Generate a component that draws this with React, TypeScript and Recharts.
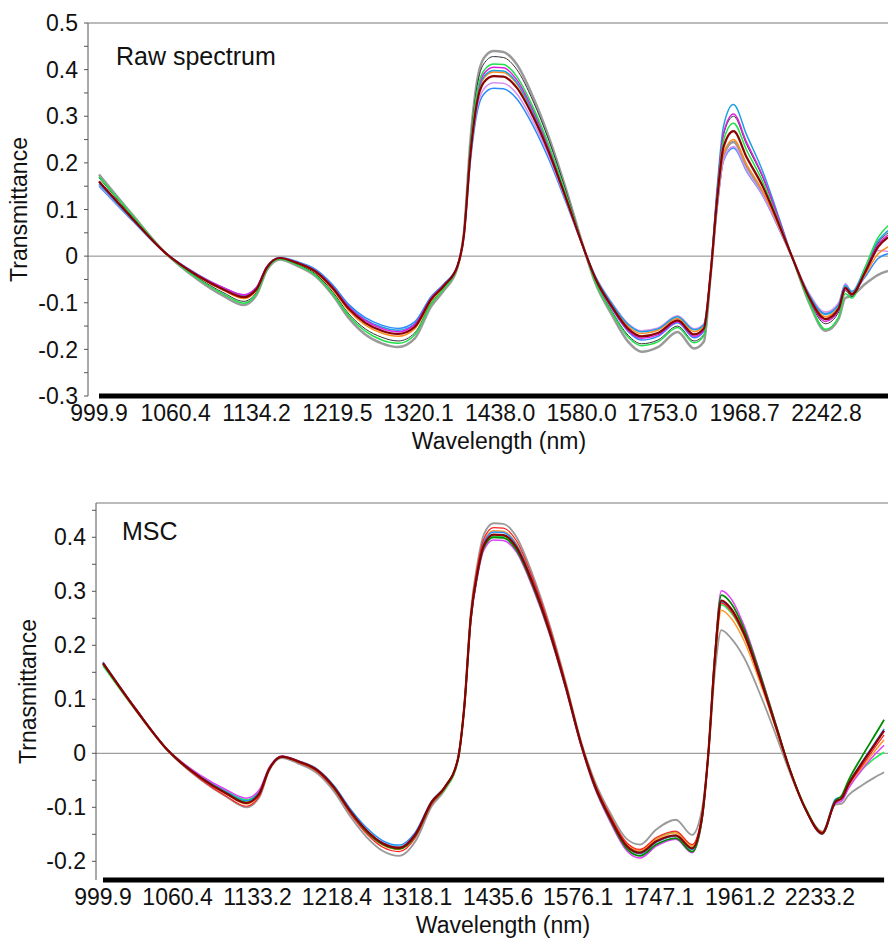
import { LineChart, Line, XAxis, YAxis, ReferenceLine } from "recharts";

// channel index along the (non-linear) wavelength axis
const CHANNELS = [0, 10, 20, 30, 38, 44, 48, 51, 55, 60, 66, 71, 76, 81, 86, 91, 96, 101, 105, 109, 111, 113, 115, 117, 120, 123, 127, 132, 137, 142, 147, 151, 156, 161, 165, 170, 176, 181, 184, 186, 188, 190, 193, 197, 202, 207, 211, 216, 221, 225, 227, 229, 233, 237, 240];

const RAW_TICK_CH = [0, 23.3, 47.9, 72.5, 97.2, 122, 146.8, 171.4, 196.4, 221.3];
const RAW_TICK_LABELS = ["999.9", "1060.4", "1134.2", "1219.5", "1320.1", "1438.0", "1580.0", "1753.0", "1968.7", "2242.8"];
const MSC_TICK_CH = [0, 22.9, 47.5, 71.9, 96.5, 121.4, 146, 170.9, 195.8, 220.3];
const MSC_TICK_LABELS = ["999.9", "1060.4", "1133.2", "1218.4", "1318.1", "1435.6", "1576.1", "1747.1", "1961.2", "2233.2"];

const RAW_Y_TICKS = [-0.3, -0.25, -0.2, -0.15, -0.1, -0.05, 0, 0.05, 0.1, 0.15, 0.2, 0.25, 0.3, 0.35, 0.4, 0.45, 0.5];
const MSC_Y_TICKS = [-0.2, -0.15, -0.1, -0.05, 0, 0.05, 0.1, 0.15, 0.2, 0.25, 0.3, 0.35, 0.4, 0.45];

// raw spectra
const RAW_GRAY = [0.175, 0.090, 0.008, -0.050, -0.086, -0.105, -0.082, -0.031, -0.007, -0.020, -0.044, -0.083, -0.133, -0.168, -0.187, -0.195, -0.177, -0.108, -0.073, -0.025, 0.050, 0.250, 0.375, 0.424, 0.440, 0.438, 0.412, 0.342, 0.252, 0.145, 0.028, -0.058, -0.126, -0.184, -0.205, -0.195, -0.163, -0.198, -0.183, -0.045, 0.110, 0.217, 0.245, 0.192, 0.134, 0.059, -0.005, -0.100, -0.160, -0.134, -0.090, -0.085, -0.060, -0.040, -0.032];
const RAW_BLACK = [0.168, 0.086, 0.008, -0.046, -0.079, -0.097, -0.077, -0.028, -0.005, -0.017, -0.039, -0.076, -0.124, -0.156, -0.174, -0.182, -0.165, -0.101, -0.068, -0.023, 0.048, 0.242, 0.364, 0.412, 0.428, 0.426, 0.401, 0.333, 0.245, 0.140, 0.027, -0.054, -0.118, -0.170, -0.188, -0.180, -0.150, -0.182, -0.168, -0.042, 0.134, 0.261, 0.300, 0.239, 0.167, 0.073, -0.005, -0.094, -0.145, -0.120, -0.074, -0.087, -0.032, 0.028, 0.050];
const RAW_LIME = [0.170, 0.088, 0.008, -0.048, -0.082, -0.101, -0.079, -0.029, -0.006, -0.018, -0.042, -0.080, -0.128, -0.161, -0.180, -0.187, -0.169, -0.103, -0.069, -0.024, 0.048, 0.235, 0.352, 0.397, 0.412, 0.411, 0.386, 0.320, 0.235, 0.134, 0.026, -0.056, -0.121, -0.174, -0.192, -0.184, -0.153, -0.186, -0.171, -0.043, 0.128, 0.249, 0.285, 0.227, 0.158, 0.069, -0.005, -0.098, -0.157, -0.130, -0.080, -0.090, -0.025, 0.040, 0.065];
const RAW_MAGENTA = [0.160, 0.082, 0.008, -0.040, -0.068, -0.083, -0.066, -0.023, -0.004, -0.013, -0.032, -0.065, -0.109, -0.138, -0.155, -0.162, -0.147, -0.090, -0.061, -0.022, 0.047, 0.230, 0.345, 0.390, 0.405, 0.404, 0.379, 0.314, 0.230, 0.131, 0.026, -0.050, -0.111, -0.160, -0.176, -0.169, -0.141, -0.172, -0.159, -0.040, 0.135, 0.265, 0.305, 0.244, 0.170, 0.075, -0.005, -0.091, -0.140, -0.116, -0.070, -0.082, -0.032, 0.025, 0.045];
const RAW_CYAN = [0.155, 0.079, 0.008, -0.040, -0.069, -0.084, -0.067, -0.024, -0.004, -0.012, -0.031, -0.063, -0.107, -0.136, -0.152, -0.159, -0.145, -0.089, -0.060, -0.021, 0.047, 0.227, 0.340, 0.384, 0.398, 0.397, 0.373, 0.309, 0.227, 0.129, 0.026, -0.044, -0.102, -0.147, -0.162, -0.156, -0.130, -0.158, -0.147, -0.038, 0.145, 0.280, 0.325, 0.260, 0.180, 0.079, -0.005, -0.083, -0.125, -0.104, -0.063, -0.076, -0.025, 0.033, 0.055];
const RAW_ORANGE = [0.160, 0.082, 0.008, -0.043, -0.074, -0.091, -0.072, -0.026, -0.004, -0.015, -0.036, -0.071, -0.117, -0.148, -0.165, -0.172, -0.156, -0.096, -0.065, -0.022, 0.046, 0.225, 0.337, 0.381, 0.395, 0.394, 0.370, 0.307, 0.225, 0.128, 0.025, -0.045, -0.104, -0.151, -0.166, -0.159, -0.133, -0.162, -0.150, -0.040, 0.112, 0.221, 0.250, 0.197, 0.138, 0.061, -0.005, -0.085, -0.130, -0.108, -0.066, -0.080, -0.040, 0.005, 0.020];
const RAW_VIOLET = [0.152, 0.078, 0.008, -0.040, -0.069, -0.085, -0.067, -0.024, -0.004, -0.013, -0.032, -0.065, -0.110, -0.139, -0.156, -0.163, -0.148, -0.091, -0.062, -0.022, 0.044, 0.212, 0.318, 0.358, 0.372, 0.371, 0.349, 0.289, 0.212, 0.120, 0.024, -0.043, -0.100, -0.145, -0.160, -0.154, -0.128, -0.156, -0.145, -0.040, 0.105, 0.208, 0.235, 0.184, 0.129, 0.057, -0.005, -0.080, -0.120, -0.100, -0.060, -0.076, -0.040, 0.012, 0.010];
const RAW_BLUE = [0.150, 0.077, 0.008, -0.039, -0.068, -0.083, -0.066, -0.023, -0.003, -0.011, -0.029, -0.061, -0.104, -0.132, -0.148, -0.155, -0.141, -0.087, -0.059, -0.021, 0.043, 0.205, 0.308, 0.347, 0.360, 0.359, 0.338, 0.280, 0.205, 0.116, 0.024, -0.050, -0.112, -0.162, -0.180, -0.172, -0.143, -0.175, -0.161, -0.040, 0.104, 0.205, 0.232, 0.182, 0.128, 0.056, -0.005, -0.082, -0.123, -0.102, -0.060, -0.077, -0.045, -0.005, 0.005];
const RAW_DARKRED = [0.160, 0.082, 0.008, -0.042, -0.072, -0.088, -0.070, -0.025, -0.004, -0.014, -0.034, -0.068, -0.113, -0.143, -0.160, -0.167, -0.152, -0.093, -0.063, -0.022, 0.045, 0.220, 0.330, 0.372, 0.386, 0.385, 0.362, 0.300, 0.220, 0.125, 0.025, -0.048, -0.108, -0.156, -0.172, -0.165, -0.138, -0.168, -0.155, -0.040, 0.120, 0.235, 0.268, 0.212, 0.148, 0.065, -0.005, -0.088, -0.135, -0.112, -0.068, -0.082, -0.035, 0.020, 0.040];

// MSC corrected spectra
const MSC_GRAY = [0.164, 0.080, 0.004, -0.049, -0.081, -0.100, -0.082, -0.033, -0.009, -0.019, -0.038, -0.071, -0.117, -0.155, -0.181, -0.190, -0.163, -0.098, -0.068, -0.014, 0.089, 0.262, 0.350, 0.405, 0.426, 0.425, 0.401, 0.331, 0.242, 0.136, 0.020, -0.050, -0.112, -0.159, -0.169, -0.141, -0.123, -0.151, -0.105, -0.003, 0.150, 0.228, 0.213, 0.177, 0.108, 0.030, -0.035, -0.105, -0.145, -0.095, -0.093, -0.078, -0.060, -0.045, -0.035];
const MSC_RED = [0.165, 0.080, 0.004, -0.048, -0.080, -0.098, -0.080, -0.032, -0.007, -0.017, -0.035, -0.067, -0.112, -0.149, -0.174, -0.182, -0.156, -0.094, -0.065, -0.012, 0.088, 0.258, 0.344, 0.397, 0.418, 0.417, 0.394, 0.325, 0.238, 0.133, 0.018, -0.054, -0.117, -0.166, -0.178, -0.156, -0.144, -0.169, -0.115, 0.000, 0.172, 0.278, 0.263, 0.218, 0.135, 0.043, -0.030, -0.104, -0.146, -0.090, -0.083, -0.060, -0.025, 0.009, 0.034];
const MSC_ORANGE = [0.167, 0.082, 0.005, -0.046, -0.076, -0.094, -0.076, -0.031, -0.006, -0.016, -0.033, -0.065, -0.109, -0.146, -0.170, -0.178, -0.153, -0.092, -0.064, -0.012, 0.087, 0.255, 0.339, 0.392, 0.412, 0.411, 0.388, 0.320, 0.234, 0.131, 0.017, -0.056, -0.119, -0.169, -0.180, -0.159, -0.147, -0.172, -0.117, 0.000, 0.167, 0.265, 0.250, 0.208, 0.129, 0.041, -0.031, -0.105, -0.147, -0.090, -0.085, -0.063, -0.028, 0.003, 0.025];
const MSC_BLUE = [0.169, 0.083, 0.005, -0.043, -0.072, -0.088, -0.072, -0.029, -0.006, -0.014, -0.030, -0.060, -0.103, -0.138, -0.162, -0.170, -0.146, -0.088, -0.062, -0.012, 0.086, 0.253, 0.337, 0.390, 0.410, 0.409, 0.386, 0.319, 0.233, 0.130, 0.016, -0.058, -0.123, -0.173, -0.186, -0.165, -0.153, -0.178, -0.122, 0.000, 0.173, 0.280, 0.265, 0.220, 0.136, 0.044, -0.030, -0.105, -0.148, -0.085, -0.080, -0.056, -0.018, 0.018, 0.045];
const MSC_DKGREEN = [0.166, 0.082, 0.005, -0.045, -0.074, -0.091, -0.074, -0.030, -0.006, -0.015, -0.032, -0.064, -0.108, -0.145, -0.169, -0.177, -0.152, -0.091, -0.063, -0.012, 0.084, 0.248, 0.330, 0.381, 0.400, 0.399, 0.377, 0.311, 0.227, 0.126, 0.014, -0.060, -0.125, -0.177, -0.190, -0.169, -0.157, -0.182, -0.124, 0.000, 0.180, 0.293, 0.278, 0.230, 0.144, 0.048, -0.029, -0.105, -0.149, -0.088, -0.078, -0.051, -0.008, 0.032, 0.062];
const MSC_MAGENTA = [0.167, 0.083, 0.006, -0.041, -0.068, -0.083, -0.068, -0.027, -0.005, -0.014, -0.031, -0.063, -0.107, -0.143, -0.166, -0.174, -0.149, -0.090, -0.063, -0.012, 0.083, 0.244, 0.325, 0.376, 0.395, 0.394, 0.373, 0.307, 0.224, 0.123, 0.011, -0.063, -0.129, -0.181, -0.194, -0.172, -0.159, -0.184, -0.125, 0.000, 0.183, 0.301, 0.286, 0.236, 0.147, 0.049, -0.029, -0.105, -0.150, -0.093, -0.088, -0.066, -0.032, -0.003, 0.015];
const MSC_LIME = [0.162, 0.080, 0.006, -0.042, -0.070, -0.086, -0.070, -0.028, -0.006, -0.016, -0.034, -0.065, -0.108, -0.143, -0.166, -0.173, -0.149, -0.092, -0.067, -0.016, 0.082, 0.246, 0.329, 0.381, 0.402, 0.402, 0.381, 0.314, 0.230, 0.128, 0.017, -0.055, -0.119, -0.169, -0.181, -0.158, -0.146, -0.172, -0.118, 0.000, 0.171, 0.275, 0.260, 0.217, 0.136, 0.045, -0.028, -0.102, -0.146, -0.090, -0.086, -0.064, -0.032, -0.010, 0.002];
const MSC_DARKRED = [0.167, 0.082, 0.005, -0.045, -0.075, -0.092, -0.075, -0.030, -0.006, -0.015, -0.032, -0.063, -0.107, -0.143, -0.167, -0.175, -0.150, -0.090, -0.063, -0.012, 0.085, 0.250, 0.333, 0.385, 0.405, 0.404, 0.382, 0.315, 0.230, 0.128, 0.015, -0.058, -0.122, -0.172, -0.184, -0.163, -0.152, -0.176, -0.120, 0.000, 0.175, 0.283, 0.268, 0.222, 0.138, 0.045, -0.030, -0.105, -0.148, -0.090, -0.083, -0.058, -0.020, 0.015, 0.042];

interface Series { key: string; values: number[]; color: string; width: number; }

const RAW_SERIES: Series[] = [
  { key: "gray", values: RAW_GRAY, color: "#9a9a9a", width: 2.5 },
  { key: "blue", values: RAW_BLUE, color: "#2b8cff", width: 1.5 },
  { key: "violet", values: RAW_VIOLET, color: "#d590f0", width: 1.5 },
  { key: "orange", values: RAW_ORANGE, color: "#ff8c1a", width: 1.5 },
  { key: "cyan", values: RAW_CYAN, color: "#1aa0e0", width: 1.5 },
  { key: "black", values: RAW_BLACK, color: "#333333", width: 1 },
  { key: "magenta", values: RAW_MAGENTA, color: "#e020e0", width: 1.5 },
  { key: "lime", values: RAW_LIME, color: "#1ee04a", width: 1.5 },
  { key: "darkred", values: RAW_DARKRED, color: "#8b0000", width: 2.2 },
];

const MSC_SERIES: Series[] = [
  { key: "gray", values: MSC_GRAY, color: "#9a9a9a", width: 1.8 },
  { key: "lime", values: MSC_LIME, color: "#22ee55", width: 1.5 },
  { key: "orange", values: MSC_ORANGE, color: "#ff9a2e", width: 1.5 },
  { key: "blue", values: MSC_BLUE, color: "#1e90ff", width: 1.5 },
  { key: "magenta", values: MSC_MAGENTA, color: "#e040fb", width: 1.5 },
  { key: "red", values: MSC_RED, color: "#ff2020", width: 1.2 },
  { key: "dkgreen", values: MSC_DKGREEN, color: "#008a00", width: 1.8 },
  { key: "darkred", values: MSC_DARKRED, color: "#8b0000", width: 2.2 },
];

const FONT = "'Liberation Sans', Arial, sans-serif";
const AXIS = "#555";

function buildRows(series: Series[]) {
  return CHANNELS.map((ch, i) => {
    const row: Record<string, number> = { ch };
    series.forEach((s) => { row[s.key] = s.values[i]; });
    return row;
  });
}

function yFmt(v: number) {
  const tenth = v * 10;
  if (Math.abs(tenth - Math.round(tenth)) > 1e-6) return "";
  if (Math.abs(v) < 1e-9) return "0";
  return v.toFixed(1);
}

function Panel({
  series, xDomain, xTicks, xLabels, yDomain, yTicks, yLabel, height, margin, yAxisWidth, xAxisHeight, yLabelOffset, xLabelOffset,
}: {
  series: Series[]; xDomain: [number, number]; xTicks: number[]; xLabels: string[];
  yDomain: [number, number]; yTicks: number[]; yLabel: string; height: number;
  margin: { top: number; right: number; bottom: number; left: number };
  yAxisWidth: number; xAxisHeight: number; yLabelOffset: number; xLabelOffset: number;
}) {
  const rows = buildRows(series);
  return (
    <LineChart width={888} height={height} data={rows} margin={margin}>
      <XAxis type="number" dataKey="ch" domain={xDomain} allowDataOverflow ticks={xTicks} interval={0}
        tickFormatter={(v: number) => xLabels[xTicks.indexOf(v)] ?? ""}
        axisLine={false} tickLine={false} tickSize={0} tickMargin={9} height={xAxisHeight}
        tick={{ fill: "#111", fontSize: 23, fontFamily: FONT }}
        label={{ value: "Wavelength (nm)", position: "insideBottom", offset: xLabelOffset, dx: 11, fill: "#111", fontSize: 23, fontFamily: FONT }} />
      <YAxis type="number" domain={yDomain} allowDataOverflow ticks={yTicks} interval={0} tickFormatter={yFmt}
        width={yAxisWidth} stroke={AXIS} tickSize={4} tickMargin={6}
        tick={{ fill: "#111", fontSize: 23, fontFamily: FONT }}
        label={{ value: yLabel, angle: -90, position: "insideLeft", offset: yLabelOffset, fill: "#111", fontSize: 23, fontFamily: FONT, style: { textAnchor: "middle" } }} />
      <ReferenceLine y={yDomain[1]} stroke="#777" ifOverflow="visible" />
      <ReferenceLine y={0} stroke="#888" />
      {series.map((s) => (
        <Line key={s.key} type="monotone" dataKey={s.key} stroke={s.color} strokeWidth={s.width}
          dot={false} activeDot={false} isAnimationActive={false} />
      ))}
      <ReferenceLine segment={[{ x: 0, y: yDomain[0] }, { x: CHANNELS[CHANNELS.length - 1], y: yDomain[0] }]}
        stroke="#000" strokeWidth={5} ifOverflow="visible" />
    </LineChart>
  );
}

export default function App() {
  return (
    <div style={{ position: "absolute", left: 0, top: 0, width: 888, height: 938, background: "#fff", fontFamily: FONT }}>
      <div style={{ position: "absolute", left: 0, top: 0 }}>
        <Panel series={RAW_SERIES} xDomain={[-3.35, 240]} xTicks={RAW_TICK_CH} xLabels={RAW_TICK_LABELS}
          yDomain={[-0.3, 0.5]} yTicks={RAW_Y_TICKS} yLabel="Transmittance" height={460}
          margin={{ top: 23, right: 0, bottom: 4, left: 0 }} yAxisWidth={88} xAxisHeight={60}
          yLabelOffset={19} xLabelOffset={7} />
      </div>
      <div style={{ position: "absolute", left: 0, top: 478 }}>
        <Panel series={MSC_SERIES} xDomain={[-2.15, 241.2]} xTicks={MSC_TICK_CH} xLabels={MSC_TICK_LABELS}
          yDomain={[-0.2346, 0.4635]} yTicks={MSC_Y_TICKS} yLabel="Trnasmittance" height={460}
          margin={{ top: 25, right: 0, bottom: 2, left: 0 }} yAxisWidth={96} xAxisHeight={56}
          yLabelOffset={28} xLabelOffset={3} />
      </div>
      <div style={{ position: "absolute", left: 116, top: 44, fontSize: 25, lineHeight: "25px", color: "#111" }}>Raw spectrum</div>
      <div style={{ position: "absolute", left: 122, top: 519, fontSize: 25, lineHeight: "25px", color: "#111" }}>MSC</div>
    </div>
  );
}
